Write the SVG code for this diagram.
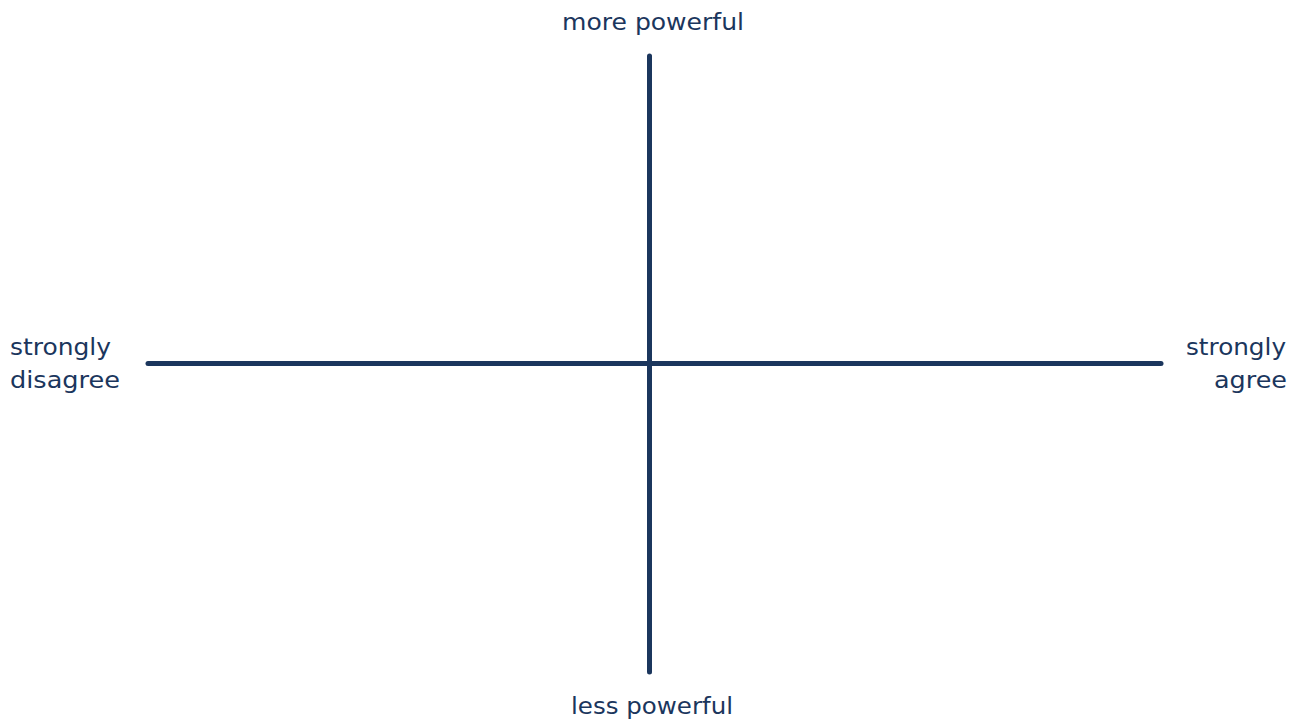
<svg xmlns="http://www.w3.org/2000/svg" width="1301" height="719" viewBox="0 0 1301 719">
<style>
.lbl{font-family:"DejaVu Sans","Noto Sans",sans-serif;font-size:23px;fill:#1b365d}
.axis{stroke:#1b365d;stroke-width:5;stroke-linecap:round;fill:none}
</style>
<rect width="1301" height="719" fill="#ffffff"/>
<g id="connectors">
<line class="axis" x1="649.5" y1="56" x2="649.5" y2="672"/>
<line class="axis" x1="148" y1="363.5" x2="1161" y2="363.5"/>
</g>
<g id="top"><text class="lbl" x="653" y="30" text-anchor="middle" textLength="182" lengthAdjust="spacingAndGlyphs">more powerful</text></g>
<g id="bottom"><text class="lbl" x="652" y="714" text-anchor="middle" textLength="162" lengthAdjust="spacingAndGlyphs">less powerful</text></g>
<g id="left"><text class="lbl" x="10" y="355" textLength="101" lengthAdjust="spacingAndGlyphs">strongly</text><text class="lbl" x="10" y="388" textLength="110" lengthAdjust="spacingAndGlyphs">disagree</text></g>
<g id="right"><text class="lbl" x="1286" y="355" text-anchor="end" textLength="100" lengthAdjust="spacingAndGlyphs">strongly</text><text class="lbl" x="1287" y="388" text-anchor="end" textLength="73" lengthAdjust="spacingAndGlyphs">agree</text></g>
</svg>
